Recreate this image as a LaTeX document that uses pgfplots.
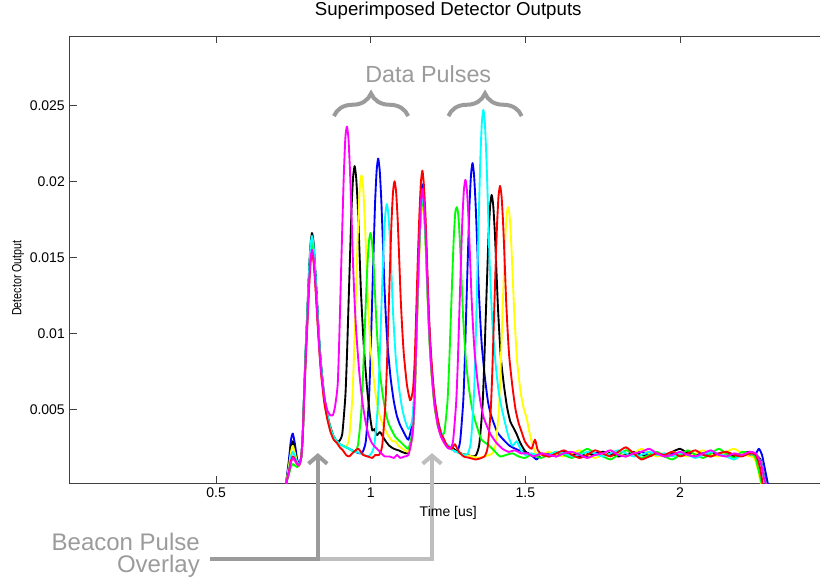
\documentclass[border=0pt]{standalone}
\usepackage{fontspec}
\setmainfont{Liberation Sans}
\usepackage{pgfplots}
\pgfplotsset{compat=1.18}
\usetikzlibrary{decorations.pathreplacing,arrows.meta}
\definecolor{annodark}{RGB}{155,155,155}
\definecolor{annolight}{RGB}{190,190,190}
\definecolor{axgray}{RGB}{64,64,64}
\definecolor{mblue}{RGB}{0,0,255}
\definecolor{mcyan}{RGB}{0,255,255}
\definecolor{mmag}{RGB}{255,0,255}
\definecolor{mred}{RGB}{255,0,0}
\definecolor{mgreen}{RGB}{0,255,0}
\definecolor{myellow}{RGB}{255,255,0}
\definecolor{mblack}{RGB}{0,0,0}
\begin{document}
\begin{tikzpicture}[x=1pt,y=1pt]
\begin{axis}[
  at={(52.125pt,72pt)}, anchor=south west,
  scale only axis, width=568.1pt, height=334.875pt,
  xmin=0.026, xmax=2.475, ymin=0.000151, ymax=0.029526,
  scaled x ticks=false, scaled y ticks=false,
  axis x line*=box, axis y line*=left,
  axis line style={axgray, line width=0.75pt},
  tick style={axgray, line width=0.75pt},
  major tick length=5.25pt, tick align=inside,
  xtick={0.5,1,1.5,2}, xticklabels={0.5,1,1.5,2},
  ytick={0.005,0.01,0.015,0.02,0.025}, yticklabels={0.005,0.01,0.015,0.02,0.025},
  /pgf/number format/assume math mode=true,
  ticklabel style={font=\fontsize{10.5}{12}\selectfont, text=black},
  title={Superimposed Detector Outputs},
  title style={at={(0.5,1.0302)}, anchor=base, font=\fontsize{14}{16}\selectfont},
  xlabel={Time [us]},
  xlabel style={at={(axis description cs:0.5,-0.0739)}, anchor=base, font=\fontsize{10.5}{12}\selectfont},
  ylabel={\scalebox{0.8}[1]{Detector Output}},
  ylabel style={at={(axis description cs:-0.068,0.459)}, anchor=center, font=\fontsize{10}{12}\selectfont},
  clip mode=individual,
  every axis plot/.append style={line width=1.4pt, line join=round, smooth, tension=0.35},
]
% blue
\addplot[color=mblue] coordinates {
(0.725,0.0000)(0.735,0.0016)(0.742,0.0030)(0.748,0.0034)(0.755,0.0027)(0.762,0.0017)(0.768,0.0014)
(0.775,0.0018)(0.780,0.0033)(0.785,0.0062)(0.790,0.0089)(0.795,0.0112)(0.800,0.0136)(0.805,0.0155)(0.810,0.0162)
(0.815,0.0156)(0.820,0.0141)(0.825,0.0124)(0.830,0.0105)(0.835,0.0089)(0.840,0.0076)(0.850,0.0057)(0.860,0.0045)(0.870,0.0037)(0.880,0.0032)(0.890,0.0029)(0.900,0.0027)(0.910,0.0026)(0.930,0.0024)(0.950,0.0022)(0.965,0.0021)
(0.974,0.0022)(0.984,0.0029)(0.994,0.0056)(0.999,0.0083)(1.004,0.0118)(1.009,0.0153)(1.014,0.0186)(1.019,0.0207)(1.024,0.0215)
(1.029,0.0207)(1.034,0.0188)(1.039,0.0161)(1.044,0.0132)(1.049,0.0110)(1.054,0.0093)(1.064,0.0071)(1.074,0.0056)(1.084,0.0046)(1.094,0.0040)(1.104,0.0036)(1.114,0.0032)(1.122,0.0030)
(1.132,0.0038)(1.137,0.0045)(1.142,0.0066)(1.147,0.0099)(1.152,0.0134)(1.157,0.0164)(1.162,0.0188)(1.167,0.0198)
(1.172,0.0188)(1.177,0.0170)(1.182,0.0142)(1.187,0.0114)(1.192,0.0093)(1.197,0.0077)(1.202,0.0065)(1.207,0.0055)(1.217,0.0042)(1.227,0.0035)(1.237,0.0030)(1.247,0.0026)(1.267,0.0023)
(1.279,0.0022)(1.289,0.0029)(1.299,0.0055)(1.304,0.0082)(1.309,0.0117)(1.314,0.0151)(1.319,0.0183)(1.324,0.0204)(1.329,0.0212)
(1.334,0.0204)(1.339,0.0185)(1.344,0.0159)(1.349,0.0130)(1.354,0.0109)(1.359,0.0092)(1.369,0.0071)(1.379,0.0055)(1.389,0.0046)(1.409,0.0035)(1.429,0.0030)(1.449,0.0026)(1.479,0.0023)(1.499,0.0022)(1.519,0.0020)(1.536,0.0017)
(1.550,0.0020)(1.575,0.0021)(1.600,0.0019)(1.625,0.0022)(1.650,0.0020)(1.675,0.0021)(1.700,0.0019)(1.725,0.0021)(1.750,0.0022)(1.775,0.0020)(1.800,0.0021)(1.825,0.0019)(1.850,0.0021)(1.875,0.0022)(1.900,0.0020)(1.925,0.0021)(1.950,0.0019)(1.975,0.0021)(2.000,0.0020)(2.025,0.0022)(2.050,0.0020)(2.075,0.0021)(2.100,0.0019)(2.125,0.0021)(2.150,0.0022)(2.175,0.0020)(2.200,0.0021)(2.225,0.0020)(2.245,0.0021)(2.255,0.0024)(2.265,0.0020)(2.275,0.0010)(2.285,0.0000)
};
% black
\addplot[color=mblack] coordinates {
(0.725,0.0000)(0.735,0.0013)(0.742,0.0025)(0.748,0.0029)(0.755,0.0023)(0.762,0.0016)(0.768,0.0014)
(0.775,0.0018)(0.780,0.0033)(0.785,0.0063)(0.790,0.0091)(0.795,0.0115)(0.800,0.0139)(0.805,0.0158)(0.810,0.0166)
(0.815,0.0160)(0.820,0.0144)(0.825,0.0127)(0.830,0.0107)(0.835,0.0091)(0.840,0.0078)(0.850,0.0058)(0.860,0.0046)(0.870,0.0038)(0.880,0.0032)(0.890,0.0029)
(0.898,0.0029)(0.908,0.0034)(0.918,0.0059)(0.923,0.0085)(0.928,0.0118)(0.933,0.0151)(0.938,0.0183)(0.943,0.0203)(0.948,0.0210)
(0.953,0.0202)(0.958,0.0184)(0.963,0.0157)(0.968,0.0129)(0.973,0.0108)(0.978,0.0090)(0.988,0.0064)(0.998,0.0045)(1.005,0.0036)(1.012,0.0037)(1.020,0.0033)(1.030,0.0035)(1.045,0.0030)(1.060,0.0026)(1.075,0.0024)(1.090,0.0023)(1.100,0.0022)(1.115,0.0021)(1.122,0.0022)
(1.132,0.0030)(1.137,0.0038)(1.142,0.0059)(1.147,0.0093)(1.152,0.0127)(1.157,0.0158)(1.162,0.0182)(1.167,0.0192)
(1.172,0.0183)(1.177,0.0165)(1.182,0.0137)(1.187,0.0110)(1.192,0.0089)(1.197,0.0074)(1.202,0.0062)(1.207,0.0052)(1.217,0.0040)(1.227,0.0033)(1.237,0.0029)(1.247,0.0026)(1.261,0.0025)(1.275,0.0023)
(1.291,0.0021)(1.311,0.0020)(1.331,0.0019)(1.341,0.0020)(1.351,0.0027)(1.361,0.0051)(1.366,0.0075)(1.371,0.0106)(1.376,0.0136)(1.381,0.0165)(1.386,0.0184)(1.391,0.0191)
(1.396,0.0184)(1.401,0.0167)(1.406,0.0143)(1.411,0.0118)(1.416,0.0099)(1.421,0.0083)(1.431,0.0065)(1.441,0.0051)(1.451,0.0042)(1.461,0.0038)(1.471,0.0034)(1.481,0.0029)(1.491,0.0025)(1.501,0.0022)(1.515,0.0020)(1.530,0.0019)
(1.550,0.0021)(1.575,0.0019)(1.600,0.0020)(1.625,0.0022)(1.650,0.0021)(1.675,0.0019)(1.700,0.0021)(1.725,0.0020)(1.750,0.0022)(1.775,0.0021)(1.800,0.0019)(1.825,0.0020)(1.850,0.0022)(1.875,0.0020)(1.900,0.0019)(1.925,0.0021)(1.950,0.0020)(1.975,0.0022)(2.000,0.0024)(2.025,0.0021)(2.050,0.0019)(2.075,0.0021)(2.100,0.0022)(2.125,0.0020)(2.150,0.0021)(2.175,0.0019)(2.200,0.0021)(2.225,0.0022)(2.245,0.0020)(2.260,0.0017)(2.270,0.0008)(2.280,0.0000)
};
% yellow
\addplot[color=myellow] coordinates {
(0.725,0.0000)(0.735,0.0012)(0.742,0.0022)(0.748,0.0026)(0.755,0.0021)(0.762,0.0015)(0.768,0.0013)
(0.775,0.0018)(0.780,0.0032)(0.785,0.0060)(0.790,0.0086)(0.795,0.0108)(0.800,0.0131)(0.805,0.0149)(0.810,0.0156)
(0.815,0.0150)(0.820,0.0136)(0.825,0.0120)(0.830,0.0102)(0.835,0.0086)(0.840,0.0073)(0.850,0.0055)(0.860,0.0044)(0.870,0.0037)(0.880,0.0031)(0.890,0.0028)(0.900,0.0027)(0.910,0.0026)
(0.920,0.0025)(0.930,0.0031)(0.940,0.0056)(0.945,0.0081)(0.950,0.0114)(0.955,0.0145)(0.960,0.0177)(0.965,0.0197)(0.970,0.0204)
(0.975,0.0197)(0.980,0.0178)(0.985,0.0153)(0.990,0.0125)(0.995,0.0105)(1.000,0.0089)(1.010,0.0069)(1.020,0.0054)(1.030,0.0045)(1.050,0.0035)(1.070,0.0029)(1.080,0.0029)(1.090,0.0026)(1.110,0.0023)(1.122,0.0022)
(1.132,0.0029)(1.137,0.0038)(1.142,0.0057)(1.147,0.0090)(1.152,0.0123)(1.157,0.0153)(1.162,0.0176)(1.167,0.0186)
(1.172,0.0178)(1.177,0.0160)(1.182,0.0133)(1.187,0.0107)(1.192,0.0087)(1.197,0.0072)(1.202,0.0061)(1.207,0.0051)(1.217,0.0039)(1.227,0.0033)(1.237,0.0028)(1.247,0.0026)(1.267,0.0023)
(1.287,0.0021)(1.307,0.0020)(1.327,0.0019)(1.347,0.0018)(1.367,0.0019)(1.384,0.0020)
(1.394,0.0021)(1.404,0.0027)(1.414,0.0049)(1.419,0.0072)(1.424,0.0102)(1.429,0.0131)(1.434,0.0159)(1.439,0.0177)(1.444,0.0183)
(1.449,0.0177)(1.454,0.0160)(1.459,0.0137)(1.464,0.0113)(1.469,0.0095)(1.474,0.0080)(1.484,0.0062)(1.494,0.0051)(1.504,0.0044)(1.514,0.0034)(1.524,0.0026)(1.534,0.0021)
(1.550,0.0020)(1.575,0.0022)(1.600,0.0020)(1.625,0.0019)(1.650,0.0021)(1.675,0.0023)(1.700,0.0020)(1.725,0.0018)(1.750,0.0020)(1.775,0.0023)(1.800,0.0021)(1.825,0.0019)(1.850,0.0021)(1.875,0.0024)(1.900,0.0021)(1.925,0.0019)(1.950,0.0020)(1.975,0.0022)(2.000,0.0020)(2.025,0.0019)(2.050,0.0021)(2.075,0.0023)(2.100,0.0020)(2.125,0.0019)(2.150,0.0022)(2.175,0.0024)(2.200,0.0021)(2.225,0.0019)(2.240,0.0018)(2.252,0.0010)(2.262,0.0000)
};
% green
\addplot[color=mgreen] coordinates {
(0.725,0.0000)(0.735,0.0007)(0.742,0.0012)(0.748,0.0014)(0.755,0.0013)(0.762,0.0012)(0.768,0.0013)
(0.775,0.0018)(0.780,0.0032)(0.785,0.0061)(0.790,0.0088)(0.795,0.0111)(0.800,0.0134)(0.805,0.0153)(0.810,0.0160)
(0.815,0.0154)(0.820,0.0139)(0.825,0.0122)(0.830,0.0104)(0.835,0.0088)(0.840,0.0075)(0.850,0.0056)(0.860,0.0045)(0.870,0.0037)(0.880,0.0032)(0.890,0.0029)(0.900,0.0027)(0.910,0.0026)(0.930,0.0024)(0.949,0.0022)
(0.959,0.0027)(0.969,0.0047)(0.974,0.0067)(0.979,0.0094)(0.984,0.0120)(0.989,0.0144)(0.994,0.0160)(0.999,0.0166)
(1.004,0.0160)(1.009,0.0146)(1.014,0.0125)(1.019,0.0104)(1.024,0.0088)(1.029,0.0075)(1.039,0.0059)(1.049,0.0047)(1.059,0.0040)(1.079,0.0032)(1.099,0.0028)(1.114,0.0025)(1.122,0.0024)
(1.132,0.0032)(1.137,0.0041)(1.142,0.0060)(1.147,0.0093)(1.152,0.0126)(1.157,0.0156)(1.162,0.0179)(1.167,0.0190)
(1.172,0.0181)(1.177,0.0161)(1.182,0.0135)(1.187,0.0108)(1.192,0.0087)(1.197,0.0073)(1.202,0.0061)(1.207,0.0051)(1.217,0.0039)
(1.228,0.0034)(1.238,0.0035)(1.248,0.0055)(1.253,0.0077)(1.258,0.0105)(1.263,0.0134)(1.268,0.0161)(1.273,0.0179)(1.278,0.0183)
(1.283,0.0178)(1.288,0.0161)(1.293,0.0138)(1.298,0.0113)(1.303,0.0096)(1.308,0.0081)(1.318,0.0063)(1.328,0.0050)(1.338,0.0042)(1.358,0.0030)(1.378,0.0027)(1.398,0.0023)(1.418,0.0019)(1.438,0.0020)(1.458,0.0021)(1.478,0.0019)(1.498,0.0018)(1.518,0.0020)(1.535,0.0019)
(1.550,0.0018)(1.575,0.0020)(1.600,0.0022)(1.625,0.0020)(1.650,0.0018)(1.675,0.0021)(1.700,0.0024)(1.725,0.0021)(1.750,0.0019)(1.775,0.0017)(1.800,0.0020)(1.825,0.0023)(1.850,0.0021)(1.875,0.0018)(1.900,0.0020)(1.925,0.0022)(1.950,0.0019)(1.975,0.0017)(2.000,0.0020)(2.025,0.0023)(2.050,0.0020)(2.075,0.0018)(2.100,0.0021)(2.125,0.0024)(2.150,0.0021)(2.175,0.0018)(2.200,0.0022)(2.225,0.0021)(2.242,0.0019)(2.255,0.0009)(2.265,0.0000)
};
% cyan
\addplot[color=mcyan] coordinates {
(0.725,0.0000)(0.735,0.0010)(0.742,0.0019)(0.748,0.0022)(0.755,0.0019)(0.762,0.0015)(0.768,0.0014)
(0.775,0.0018)(0.780,0.0033)(0.785,0.0063)(0.790,0.0090)(0.795,0.0113)(0.800,0.0137)(0.805,0.0157)(0.810,0.0164)
(0.815,0.0158)(0.820,0.0143)(0.825,0.0125)(0.830,0.0106)(0.835,0.0090)(0.840,0.0077)(0.850,0.0058)(0.860,0.0046)(0.870,0.0037)(0.880,0.0032)(0.890,0.0029)(0.900,0.0027)(0.910,0.0026)(0.930,0.0024)(0.950,0.0022)(0.970,0.0021)(0.990,0.0019)
(1.002,0.0021)(1.012,0.0027)(1.022,0.0050)(1.027,0.0073)(1.032,0.0103)(1.037,0.0132)(1.042,0.0160)(1.047,0.0178)(1.052,0.0185)
(1.057,0.0178)(1.062,0.0162)(1.067,0.0139)(1.072,0.0114)(1.077,0.0096)(1.082,0.0081)(1.092,0.0063)(1.102,0.0050)(1.112,0.0042)(1.122,0.0037)
(1.132,0.0041)(1.137,0.0049)(1.142,0.0067)(1.147,0.0099)(1.152,0.0131)(1.157,0.0161)(1.162,0.0183)(1.167,0.0193)
(1.172,0.0184)(1.177,0.0166)(1.182,0.0138)(1.187,0.0112)(1.192,0.0091)(1.197,0.0076)(1.202,0.0065)(1.207,0.0054)(1.217,0.0041)(1.227,0.0035)(1.237,0.0029)(1.247,0.0027)(1.267,0.0023)(1.287,0.0021)(1.304,0.0020)
(1.314,0.0021)(1.324,0.0029)(1.334,0.0061)(1.339,0.0093)(1.344,0.0134)(1.349,0.0174)(1.354,0.0213)(1.359,0.0238)(1.364,0.0247)
(1.369,0.0238)(1.374,0.0215)(1.379,0.0183)(1.384,0.0149)(1.389,0.0124)(1.394,0.0104)(1.404,0.0079)(1.414,0.0061)(1.424,0.0050)(1.444,0.0033)(1.458,0.0026)(1.472,0.0029)(1.486,0.0023)(1.500,0.0020)(1.520,0.0021)(1.535,0.0020)
(1.550,0.0021)(1.575,0.0020)(1.600,0.0022)(1.625,0.0021)(1.650,0.0019)(1.675,0.0020)(1.700,0.0022)(1.725,0.0021)(1.750,0.0019)(1.775,0.0021)(1.800,0.0023)(1.825,0.0021)(1.850,0.0019)(1.875,0.0020)(1.900,0.0022)(1.925,0.0020)(1.950,0.0021)(1.975,0.0019)(2.000,0.0021)(2.025,0.0020)(2.050,0.0018)(2.075,0.0020)(2.100,0.0022)(2.125,0.0021)(2.150,0.0019)(2.175,0.0017)(2.200,0.0020)(2.225,0.0021)(2.245,0.0020)(2.262,0.0015)(2.272,0.0005)(2.280,0.0000)
};
% red
\addplot[color=mred] coordinates {
(0.725,0.0000)(0.735,0.0009)(0.742,0.0016)(0.748,0.0019)(0.755,0.0017)(0.762,0.0014)(0.768,0.0013)
(0.775,0.0018)(0.780,0.0032)(0.785,0.0059)(0.790,0.0084)(0.795,0.0106)(0.800,0.0128)(0.805,0.0146)(0.810,0.0153)
(0.815,0.0147)(0.820,0.0134)(0.825,0.0117)(0.830,0.0100)(0.835,0.0085)(0.840,0.0072)(0.850,0.0054)(0.860,0.0043)(0.870,0.0035)(0.880,0.0030)(0.890,0.0028)(0.900,0.0025)(0.910,0.0023)(0.920,0.0020)(0.930,0.0019)(0.945,0.0022)(0.960,0.0024)(0.975,0.0020)(0.990,0.0019)(1.005,0.0018)(1.015,0.0020)
(1.027,0.0020)(1.037,0.0026)(1.047,0.0052)(1.052,0.0077)(1.057,0.0110)(1.062,0.0142)(1.067,0.0173)(1.072,0.0193)(1.077,0.0200)
(1.082,0.0193)(1.087,0.0175)(1.092,0.0149)(1.097,0.0122)(1.102,0.0102)(1.107,0.0086)(1.117,0.0066)(1.127,0.0056)
(1.132,0.0058)(1.137,0.0064)(1.142,0.0082)(1.147,0.0114)(1.152,0.0148)(1.157,0.0177)(1.162,0.0199)(1.167,0.0207)
(1.172,0.0197)(1.177,0.0177)(1.182,0.0147)(1.187,0.0118)(1.192,0.0096)(1.197,0.0080)(1.202,0.0067)(1.207,0.0056)(1.217,0.0043)(1.227,0.0034)(1.237,0.0030)(1.247,0.0026)(1.262,0.0024)(1.272,0.0027)(1.285,0.0022)(1.300,0.0019)(1.320,0.0018)(1.340,0.0017)(1.358,0.0018)
(1.368,0.0019)(1.378,0.0025)(1.388,0.0050)(1.393,0.0075)(1.398,0.0108)(1.403,0.0140)(1.408,0.0170)(1.413,0.0190)(1.418,0.0197)
(1.423,0.0190)(1.428,0.0172)(1.433,0.0147)(1.438,0.0120)(1.443,0.0100)(1.448,0.0084)(1.458,0.0065)(1.468,0.0050)(1.478,0.0041)(1.488,0.0035)(1.498,0.0029)(1.508,0.0026)(1.520,0.0024)(1.531,0.0030)(1.540,0.0023)
(1.555,0.0020)(1.575,0.0019)(1.600,0.0021)(1.625,0.0023)(1.650,0.0020)(1.675,0.0018)(1.700,0.0020)(1.725,0.0023)(1.750,0.0021)(1.775,0.0019)(1.800,0.0022)(1.825,0.0025)(1.850,0.0021)(1.875,0.0017)(1.900,0.0019)(1.925,0.0021)(1.950,0.0020)(1.975,0.0022)(2.000,0.0019)(2.025,0.0021)(2.050,0.0023)(2.075,0.0020)(2.100,0.0019)(2.125,0.0021)(2.150,0.0022)(2.175,0.0020)(2.200,0.0019)(2.225,0.0021)(2.245,0.0020)(2.258,0.0012)(2.268,0.0000)
};
% magenta
\addplot[color=mmag] coordinates {
(0.725,0.0000)(0.735,0.0008)(0.742,0.0015)(0.748,0.0018)(0.755,0.0016)(0.762,0.0014)(0.768,0.0013)
(0.775,0.0018)(0.780,0.0032)(0.785,0.0060)(0.790,0.0085)(0.795,0.0107)(0.800,0.0130)(0.805,0.0148)(0.810,0.0155)
(0.815,0.0150)(0.820,0.0136)(0.825,0.0120)(0.830,0.0102)(0.835,0.0086)(0.840,0.0074)(0.850,0.0058)(0.860,0.0049)(0.870,0.0046)(0.877,0.0046)(0.884,0.0051)(0.893,0.0066)(0.898,0.0095)(0.903,0.0133)(0.908,0.0170)(0.913,0.0205)(0.918,0.0229)(0.923,0.0236)
(0.928,0.0228)(0.933,0.0206)(0.938,0.0176)(0.943,0.0144)(0.948,0.0120)(0.953,0.0101)(0.963,0.0074)(0.973,0.0055)(0.983,0.0042)(0.993,0.0033)(1.003,0.0028)(1.015,0.0025)(1.030,0.0022)(1.045,0.0019)(1.060,0.0019)(1.075,0.0018)(1.085,0.0020)(1.095,0.0018)(1.110,0.0019)(1.122,0.0020)
(1.132,0.0029)(1.137,0.0038)(1.142,0.0059)(1.147,0.0094)(1.152,0.0129)(1.157,0.0160)(1.162,0.0185)(1.167,0.0195)
(1.172,0.0186)(1.177,0.0167)(1.182,0.0139)(1.187,0.0111)(1.192,0.0090)(1.197,0.0074)(1.202,0.0062)(1.207,0.0052)(1.217,0.0039)(1.227,0.0032)(1.237,0.0028)(1.247,0.0025)
(1.256,0.0024)(1.266,0.0029)(1.276,0.0054)(1.281,0.0078)(1.286,0.0111)(1.291,0.0143)(1.296,0.0174)(1.301,0.0194)(1.306,0.0201)
(1.311,0.0194)(1.316,0.0176)(1.321,0.0150)(1.326,0.0123)(1.331,0.0103)(1.336,0.0087)(1.346,0.0067)(1.356,0.0053)(1.366,0.0044)(1.386,0.0034)(1.406,0.0028)(1.426,0.0024)(1.446,0.0022)(1.466,0.0023)(1.486,0.0021)(1.506,0.0021)(1.526,0.0019)(1.540,0.0020)
(1.555,0.0021)(1.575,0.0020)(1.600,0.0019)(1.625,0.0021)(1.650,0.0022)(1.675,0.0020)(1.700,0.0018)(1.725,0.0020)(1.750,0.0021)(1.775,0.0023)(1.800,0.0020)(1.825,0.0019)(1.850,0.0021)(1.875,0.0022)(1.900,0.0024)(1.925,0.0021)(1.950,0.0019)(1.975,0.0020)(2.000,0.0022)(2.025,0.0020)(2.050,0.0019)(2.075,0.0021)(2.100,0.0023)(2.125,0.0020)(2.150,0.0019)(2.175,0.0021)(2.200,0.0020)(2.225,0.0022)(2.245,0.0021)(2.262,0.0014)(2.272,0.0004)(2.280,0.0000)
};
% annotations
\draw[annodark, line width=3pt, decorate, decoration={brace, amplitude=17pt}] (axis cs:0.881,0.02429) -- (axis cs:1.121,0.02429);
\draw[annodark, line width=3pt, decorate, decoration={brace, amplitude=17pt}] (axis cs:1.251,0.02429) -- (axis cs:1.488,0.02429);
\node[annodark, anchor=base, inner sep=0pt, font=\fontsize{17.5}{20}\selectfont] at (axis cs:1.186,0.02649) {Data Pulses};
\draw[annolight, line width=3pt, -{Straight Barb[length=6pt,width=14pt]}] (axis cs:0.829,-0.00485) -- (axis cs:1.198,-0.00485) -- (axis cs:1.198,0.00212);
\draw[annodark, line width=3pt, -{Straight Barb[length=6pt,width=14pt]}] (axis cs:0.481,-0.00485) -- (axis cs:0.829,-0.00485) -- (axis cs:0.829,0.00212);
\node[annodark, anchor=base east, inner sep=0pt, font=\fontsize{18}{20}\selectfont] at (axis cs:0.448,-0.004257) {Beacon Pulse};
\node[annodark, anchor=base east, inner sep=0pt, font=\fontsize{18}{20}\selectfont] at (axis cs:0.448,-0.005704) {Overlay};
\end{axis}
\pgfresetboundingbox
\useasboundingbox (0,0) rectangle (615pt,434.25pt);
\end{tikzpicture}
\end{document}
